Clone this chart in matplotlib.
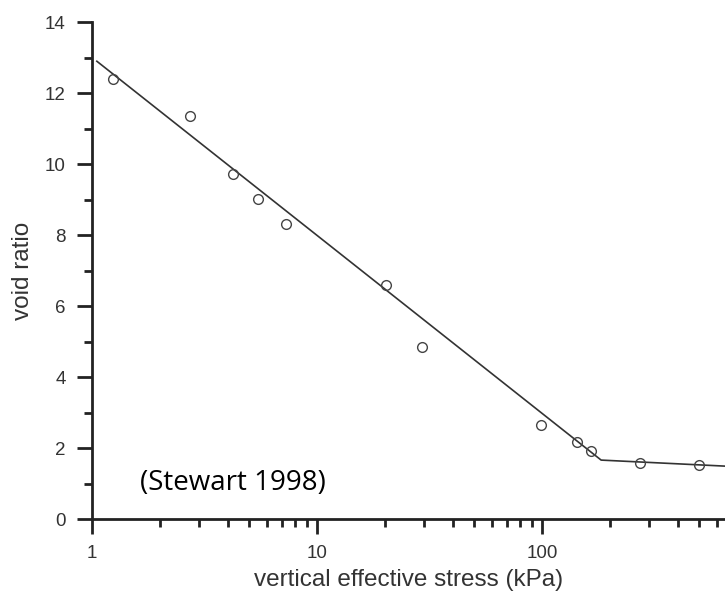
import matplotlib
matplotlib.use("Agg")
import matplotlib.pyplot as plt
from matplotlib.ticker import LogLocator, FixedLocator, NullFormatter

# measured points (Stewart 1998)
stress = [1.24, 2.73, 4.23, 5.47, 7.28, 20.3, 29.3, 99, 143, 165, 273, 499]
void_ratio = [12.39, 11.35, 9.72, 9.01, 8.31, 6.59, 4.85, 2.65, 2.17, 1.92, 1.58, 1.52]

# fitted bilinear line
fit_stress = [1.05, 183, 650]
fit_void = [12.9, 1.66, 1.49]

xticks = [1, 10, 100]
xticklabels = ["1", "10", "100"]

plt.rcParams['font.family'] = ['Liberation Sans', 'DejaVu Sans']

fig = plt.figure(figsize=(7.25, 6), dpi=100)
ax = fig.add_axes([0.127, 0.135, 0.873, 0.828])

ax.plot(fit_stress, fit_void, color="#333333", lw=1.2)
ax.plot(stress, void_ratio, "o", mfc="none", mec="#444444", ms=7, mew=1.0)

ax.set_xscale("log")
ax.set_xlim(1, 650)
ax.set_ylim(0, 14)
ax.set_xticks(xticks)
ax.set_xticklabels(xticklabels)
ax.xaxis.set_minor_locator(LogLocator(base=10, subs=range(2, 10)))
ax.xaxis.set_minor_formatter(NullFormatter())
ax.set_yticks(range(0, 15, 2))
ax.yaxis.set_minor_locator(FixedLocator(range(1, 14, 2)))

for s in ["top", "right"]:
    ax.spines[s].set_visible(False)
for s in ["left", "bottom"]:
    ax.spines[s].set_linewidth(2)
    ax.spines[s].set_color("#222222")

ax.tick_params(which="major", direction="out", length=11, width=2, color="#222222",
               labelsize=13.5, labelcolor="#333333", pad=8)
ax.tick_params(which="minor", direction="out", length=6, width=2, color="#222222")

ax.set_xlabel("vertical effective stress (kPa)", fontsize=17.5, color="#333333", labelpad=5)
ax.set_ylabel("void ratio", fontsize=17.5, color="#333333", labelpad=8)

ax.text(0.075, 0.072, "(Stewart 1998)", transform=ax.transAxes, fontsize=20,
        family=["Open Sans", "DejaVu Sans"], color="black", va="center")

fig.savefig("out.png", dpi=100)
